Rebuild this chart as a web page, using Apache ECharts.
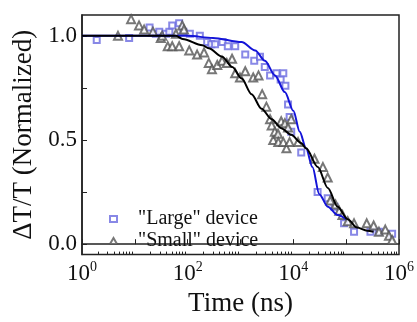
<!DOCTYPE html>
<html>
<head>
<meta charset="utf-8">
<script src="https://cdn.jsdelivr.net/npm/echarts@6/dist/echarts.min.js"></script>
<style>
  html, body { margin: 0; padding: 0; background: #fff; }
  #main { width: 417px; height: 322px; }
</style>
</head>
<body>
<div id="main"></div>
<script>
// "Large" device (blue squares)
var largeX = [1.9, 7.8, 19, 25, 29, 39, 45, 51, 69, 83, 110, 170, 234, 280, 330, 457, 575, 794,
  1230, 1820, 2340, 2880, 3630, 4790, 5750, 6460, 7080, 7940, 8510, 9120, 14100, 28800, 44700,
  60300, 91200, 141000, 288000, 417000, 741000];
var largeY = [0.98, 0.99, 1.04, 1.01, 1.02, 1.01, 1.02, 1.05, 1.06, 1.02, 1.01, 1.00, 0.97, 0.96, 0.96, 0.97, 0.95, 0.95,
  0.91, 0.88, 0.90, 0.85, 0.81, 0.82, 0.79, 0.82, 0.76, 0.67, 0.61, 0.54, 0.44, 0.25, 0.22,
  0.18, 0.10, 0.06, 0.06, 0.06, 0.05];

// "Small" device (black triangles)
var smallX = [4.8, 8.5, 12, 15, 22, 31, 33, 42, 51, 60, 69, 79, 85, 107, 151, 204, 251, 288, 363, 447,
  550, 692, 794, 977, 1230, 1740, 2190, 2570, 3090, 3630, 3890, 4170, 4470, 5130, 5200, 5890, 6460,
  6920, 7410, 7940, 8510, 9120, 12300, 25100, 36300, 44700, 50100, 63100, 74100, 85100, 107000,
  141000, 245000, 331000, 417000, 550000, 646000, 741000];
var smallY = [1.00, 1.08, 1.05, 1.03, 1.02, 0.99, 1.00, 0.95, 0.95, 1.01, 0.95, 1.05, 1.03, 0.93, 0.91, 0.92, 0.87, 0.84, 0.86, 0.88,
  0.87, 0.89, 0.82, 0.80, 0.83, 0.80, 0.81, 0.72, 0.66, 0.60, 0.57, 0.50, 0.54, 0.53, 0.49, 0.59, 0.49,
  0.58, 0.46, 0.56, 0.49, 0.60, 0.49, 0.41, 0.37, 0.32, 0.21, 0.19, 0.16, 0.14, 0.11,
  0.10, 0.10, 0.09, 0.06, 0.07, 0.04, 0.02];

// fit curves
var largeFitX = [1, 100, 300, 1050, 1900, 2900, 4500, 6900, 10000, 13200, 17400, 23000, 31000, 45000, 69000, 100000];
var largeFitY = [1.0, 1.0, 0.99, 0.97, 0.93, 0.88, 0.81, 0.73, 0.64, 0.54, 0.46, 0.37, 0.24, 0.18, 0.14, 0.12];
var smallFitX = [1, 60, 80, 190, 250, 450, 700, 1050, 1620, 2500, 3900, 5900, 9100, 14000, 17400, 29000, 45000, 69000, 107000, 160000, 250000, 330000];
var smallFitY = [1.0, 1.0, 0.985, 0.955, 0.94, 0.90, 0.85, 0.795, 0.72, 0.65, 0.60, 0.557, 0.525, 0.486, 0.46, 0.37, 0.27, 0.18, 0.12, 0.08, 0.065, 0.06];

var xMajor = [1, 10, 100, 1000, 10000, 100000, 1000000];
var xLabels = [1, 100, 10000, 1000000];
var xMinor = [];
for (var d = 1; d < 1000000; d *= 10) {
    for (var k = 2; k <= 9; k++) xMinor.push(k * d);
}
var yTicks = [0, 0.25, 0.5, 0.75, 1.0];
var yLabels = [0, 0.5, 1.0];

function pairs(xs, ys) {
    return xs.map(function (x, i) { return [x, ys[i]]; });
}

var font = 'Liberation Serif';
var blue = '#1414d8';
var lightBlue = '#6a6ae0';
var gray = '#555';

var myChart = echarts.init(document.getElementById('main'));
var option = {
    backgroundColor: '#fff',
    animation: false,
    grid: {
        left: 82, right: 15, top: 15, bottom: 65,
        show: true, borderColor: '#222', borderWidth: 1.5
    },
    legend: {
        orient: 'vertical',
        left: 104, top: 204,
        itemWidth: 7, itemHeight: 6,
        itemGap: 2,
        textStyle: { fontFamily: font, fontSize: 20, color: '#111', padding: [0, 0, 0, 16] },
        data: ['"Large" device', '"Small" device']
    },
    xAxis: [{
        type: 'log', logBase: 10, min: 1, max: 1000000,
        axisLine: { lineStyle: { color: '#222', width: 1.5 } },
        axisTick: { inside: true, length: 5, customValues: xMajor, lineStyle: { color: '#222' } },
        splitLine: { show: false },
        axisLabel: {
            customValues: xLabels, margin: 6,
            formatter: function (v) {
                return '{b|10}{s|' + Math.round(Math.log10(v)) + '}';
            },
            rich: {
                b: { fontFamily: font, fontSize: 23, color: '#111' },
                s: { fontFamily: font, fontSize: 14, color: '#111', verticalAlign: 'top', padding: [0, 0, 12, 0] }
            }
        },
        name: 'Time (ns)', nameLocation: 'middle', nameGap: 29,
        nameTextStyle: { fontFamily: font, fontSize: 27, color: '#111' }
    }, {
        type: 'log', logBase: 10, min: 1, max: 1000000, position: 'bottom',
        axisLine: { show: false },
        axisTick: { inside: true, length: 3, customValues: xMinor, lineStyle: { color: '#222' } },
        axisLabel: { show: false },
        splitLine: { show: false }
    }],
    yAxis: {
        type: 'value', min: -0.05, max: 1.1,
        axisLine: { show: true, lineStyle: { color: '#222', width: 1.5 } },
        axisTick: { inside: true, length: 5, customValues: yTicks, lineStyle: { color: '#222' } },
        splitLine: { show: false },
        axisLabel: {
            customValues: yLabels, margin: 5,
            fontFamily: font, fontSize: 23, color: '#111',
            formatter: function (v) { return v.toFixed(1); }
        },
        name: 'ΔT/T (Normalized)', nameLocation: 'middle', nameGap: 42,
        nameTextStyle: { fontFamily: font, fontSize: 27, color: '#111' }
    },
    series: [{
        name: '"Large" device',
        type: 'scatter',
        symbol: 'emptyRect', symbolSize: 6,
        itemStyle: { color: lightBlue, borderWidth: 1 },
        data: pairs(largeX, largeY),
        z: 2
    }, {
        name: '"Small" device',
        type: 'scatter',
        symbol: 'emptyTriangle', symbolSize: 8,
        itemStyle: { color: gray, borderWidth: 1 },
        data: pairs(smallX, smallY),
        z: 2
    }, {
        name: 'largeFit',
        type: 'line', smooth: 0.3, smoothMonotone: 'x', symbol: 'none',
        lineStyle: { color: blue, width: 2 },
        data: pairs(largeFitX, largeFitY),
        z: 3
    }, {
        name: 'smallFit',
        type: 'line', smooth: 0.3, smoothMonotone: 'x', symbol: 'none',
        lineStyle: { color: '#000', width: 2 },
        data: pairs(smallFitX, smallFitY),
        z: 3
    }]
};
myChart.setOption(option);
</script>
</body>
</html>
